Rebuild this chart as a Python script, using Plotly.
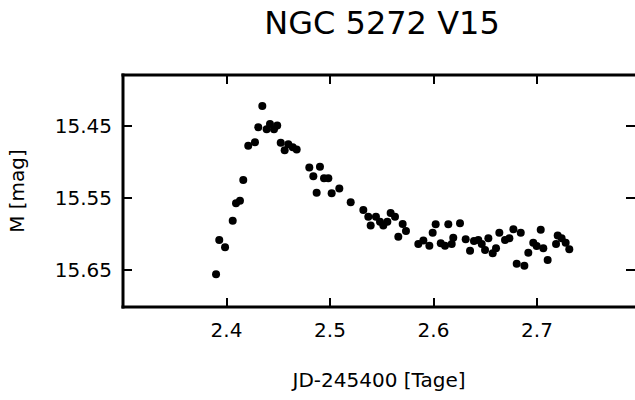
import plotly.graph_objects as go

jd = [2.3899, 2.3930, 2.3986, 2.4060, 2.4092, 2.4130, 2.4162, 2.4210, 2.4275, 2.4307,
      2.4346, 2.4388, 2.4420, 2.4459, 2.4490, 2.4524, 2.4562, 2.4597, 2.4640, 2.4678,
      2.4800, 2.4839, 2.4871, 2.4903, 2.4942, 2.4984, 2.5016, 2.5090, 2.5200, 2.5322,
      2.5370, 2.5393, 2.5444, 2.5483, 2.5515, 2.5554, 2.5586, 2.5628, 2.5660, 2.5702,
      2.5734, 2.5853, 2.5902, 2.5960, 2.5992, 2.6021, 2.6070, 2.6111, 2.6143, 2.6176,
      2.6191, 2.6256, 2.6311, 2.6353, 2.6391, 2.6433, 2.6466, 2.6498, 2.6530, 2.6572,
      2.6604, 2.6636, 2.6691, 2.6733, 2.6772, 2.6804, 2.6843, 2.6878, 2.6916, 2.6964,
      2.6997, 2.7036, 2.7061, 2.7103, 2.7184, 2.7200, 2.7238, 2.7277, 2.7312]
mag = [15.6555, 15.6080, 15.6180, 15.5815, 15.5575, 15.5540, 15.5253, 15.4780, 15.4730, 15.4525,
       15.4230, 15.4550, 15.4480, 15.4550, 15.4500, 15.4738, 15.4840, 15.4760, 15.4800, 15.4830,
       15.5080, 15.5200, 15.5430, 15.5070, 15.5230, 15.5230, 15.5437, 15.5370, 15.5560, 15.5667,
       15.5760, 15.5880, 15.5760, 15.5830, 15.5880, 15.5830, 15.5710, 15.5760, 15.6036, 15.5860,
       15.5957, 15.6137, 15.6090, 15.6160, 15.5980, 15.5865, 15.6127, 15.6160, 15.5865, 15.6137,
       15.6050, 15.5850, 15.6070, 15.6230, 15.6095, 15.6080, 15.6137, 15.6220, 15.6058, 15.6265,
       15.6196, 15.5980, 15.6080, 15.6058, 15.5934, 15.6410, 15.5980, 15.6436, 15.6257, 15.6120,
       15.6164, 15.5940, 15.6196, 15.6358, 15.6137, 15.6020, 15.6058, 15.6120, 15.6210]

x_ticks = [2.4, 2.5, 2.6, 2.7]
y_ticks = [15.45, 15.55, 15.65]

FONT = "DejaVu Sans"

fig = go.Figure(go.Scatter(
    x=jd, y=mag, mode="markers",
    marker=dict(color="black", size=8, line=dict(width=0)),
    showlegend=False,
))

frame = dict(color="black", width=3)
fig.update_layout(
    width=635, height=400,
    margin=dict(l=123, r=0, t=75, b=93),
    paper_bgcolor="white", plot_bgcolor="white",
    font=dict(family=FONT, color="black", size=20),
    title=dict(text="NGC 5272 V15", x=382 / 635, xanchor="center",
               y=1 - 23 / 400, yanchor="middle", yref="container",
               font=dict(family=FONT, size=32, color="black")),
    shapes=[
        dict(type="line", xref="paper", yref="paper", x0=-0.003, x1=1.05, y0=1, y1=1, line=frame),
        dict(type="line", xref="paper", yref="paper", x0=-0.003, x1=1.05, y0=0, y1=0, line=frame),
        dict(type="line", xref="paper", yref="paper", x0=0, x1=0, y0=-0.0065, y1=1.0065, line=frame),
    ],
)

fig.update_xaxes(
    range=[2.3, 2.3 + 512 / 1035],
    tickvals=x_ticks, ticktext=[f"{v:.1f}" for v in x_ticks],
    ticks="inside", ticklen=9, tickwidth=2, tickcolor="black",
    showline=False, mirror="ticks",
    showgrid=False, zeroline=False,
    tickfont=dict(family=FONT, size=20, color="black"),
    ticklabelstandoff=9,
    title=dict(text="JD-245400 [Tage]", font=dict(family=FONT, size=20, color="black"),
               standoff=31),
)
fig.update_yaxes(
    range=[15.7007, 15.3802],
    tickvals=y_ticks, ticktext=[f"{v:.2f}" for v in y_ticks],
    ticks="inside", ticklen=9, tickwidth=2, tickcolor="black",
    showline=False, mirror="ticks",
    showgrid=False, zeroline=False,
    tickfont=dict(family=FONT, size=20, color="black"),
    ticklabelstandoff=10,
    title=dict(text="M [mag]", font=dict(family=FONT, size=20, color="black"),
               standoff=24),
)

fig.write_html("out.html")
